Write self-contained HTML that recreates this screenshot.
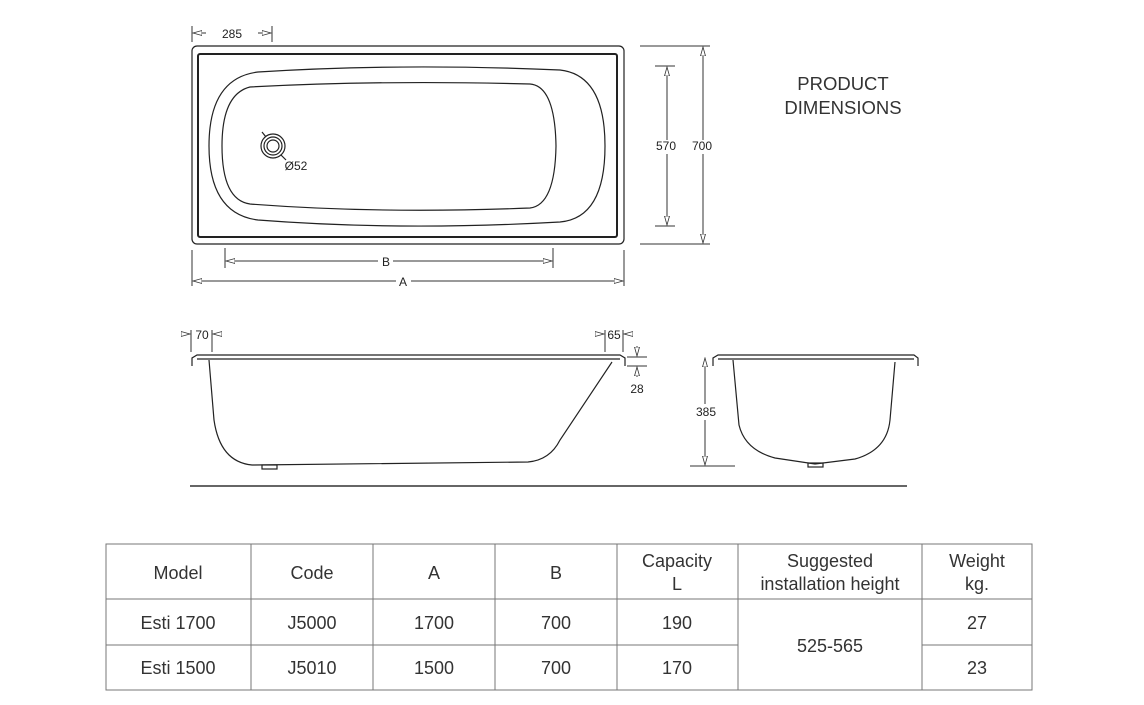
<!DOCTYPE html>
<html><head><meta charset="utf-8"><style>
body{margin:0;background:#fff;width:1144px;height:705px;overflow:hidden;font-family:"Liberation Sans",sans-serif}
svg{position:absolute;left:0;top:0}
</style></head><body>
<svg width="1144" height="705" viewBox="0 0 1144 705" font-family="Liberation Sans, sans-serif">
<defs>
<marker id="ar" markerWidth="10" markerHeight="6" refX="9" refY="3" orient="auto" markerUnits="userSpaceOnUse"><path d="M0,0.5 L9,3 L0,5.5 Z" fill="#fff" stroke="#333" stroke-width="0.8"/></marker>
</defs>
<g fill="none" stroke="#222" stroke-width="1.2">
<rect x="192" y="46" width="432" height="198" rx="5"/>
<rect x="198" y="54" width="419" height="183" rx="2" stroke-width="2"/>
<path d="M258,72 Q400,63 560,70 Q605,75 605,146 Q605,218 560,222 Q400,231 258,220 Q209,214 209,146 Q209,78 258,72 Z"/>
<path d="M250,87 Q380,80 530,84 Q555,86 556,146 Q555,205 530,208 Q380,214 250,204 Q222,200 222,146 Q222,94 250,87 Z"/>
<circle cx="273" cy="146" r="12"/><circle cx="273" cy="146" r="9"/><circle cx="273" cy="146" r="6"/>
<line x1="262" y1="132" x2="266" y2="137"/><line x1="281" y1="155" x2="286" y2="160"/>
</g>
<g stroke="#333" stroke-width="1" fill="none">
<line x1="192" y1="26" x2="192" y2="42"/><line x1="272" y1="26" x2="272" y2="42"/>
<line x1="206" y1="33" x2="193" y2="33" marker-end="url(#ar)"/><line x1="258" y1="33" x2="271" y2="33" marker-end="url(#ar)"/>
<line x1="640" y1="46" x2="710" y2="46"/><line x1="640" y1="244" x2="710" y2="244"/>
<line x1="655" y1="66" x2="675" y2="66"/><line x1="655" y1="226" x2="675" y2="226"/>
<line x1="667" y1="140" x2="667" y2="67" marker-end="url(#ar)"/><line x1="667" y1="154" x2="667" y2="225" marker-end="url(#ar)"/>
<line x1="703" y1="140" x2="703" y2="47" marker-end="url(#ar)"/><line x1="703" y1="154" x2="703" y2="243" marker-end="url(#ar)"/>
<line x1="192" y1="250" x2="192" y2="286"/><line x1="624" y1="250" x2="624" y2="286"/>
<line x1="225" y1="248" x2="225" y2="268"/><line x1="553" y1="248" x2="553" y2="268"/>
<line x1="378" y1="261" x2="226" y2="261" marker-end="url(#ar)"/><line x1="393" y1="261" x2="552" y2="261" marker-end="url(#ar)"/>
<line x1="396" y1="281" x2="193" y2="281" marker-end="url(#ar)"/><line x1="411" y1="281" x2="623" y2="281" marker-end="url(#ar)"/>
<line x1="191" y1="330" x2="191" y2="352"/><line x1="212" y1="330" x2="212" y2="352"/>
<line x1="182" y1="334" x2="190" y2="334" marker-end="url(#ar)"/><line x1="220" y1="334" x2="213" y2="334" marker-end="url(#ar)"/>
<line x1="605" y1="330" x2="605" y2="352"/><line x1="623" y1="330" x2="623" y2="352"/>
<line x1="596" y1="334" x2="604" y2="334" marker-end="url(#ar)"/><line x1="632" y1="334" x2="624" y2="334" marker-end="url(#ar)"/>
<line x1="627" y1="357" x2="647" y2="357"/><line x1="627" y1="366" x2="647" y2="366"/>
<line x1="637" y1="346" x2="637" y2="356" marker-end="url(#ar)"/><line x1="637" y1="377" x2="637" y2="367" marker-end="url(#ar)"/>
<line x1="690" y1="466" x2="735" y2="466"/>
<line x1="705" y1="404" x2="705" y2="358" marker-end="url(#ar)"/><line x1="705" y1="420" x2="705" y2="465" marker-end="url(#ar)"/>
<line x1="190" y1="486" x2="907" y2="486" stroke-width="1.4"/>
</g>
<g fill="none" stroke="#222" stroke-width="1.2">
<path d="M192,366 L192,358 L197,355 L620,355 L625,358 L625,366"/>
<line x1="197" y1="359" x2="620" y2="359"/>
<path d="M209,360 L214,420 Q220,462 252,465 L528,462 Q550,460 560,440 L612,362"/>
<rect x="262" y="465" width="15" height="4"/>
<path d="M713,366 L713,358 L718,355 L914,355 L918,358 L918,366"/>
<line x1="718" y1="359" x2="914" y2="359"/>
<path d="M733,360 L739,425 Q745,450 775,458 L815,464 L855,459 Q887,450 890,420 L895,362"/>
<rect x="808" y="463" width="15" height="4"/>
</g>
<g fill="#222" font-size="12" text-anchor="middle">
<text x="232" y="38">285</text>
<text x="296" y="170">Ø52</text>
<text x="666" y="150">570</text>
<text x="702" y="150">700</text>
<text x="386" y="266">B</text>
<text x="403" y="286">A</text>
<text x="202" y="339">70</text>
<text x="614" y="339">65</text>
<text x="637" y="393">28</text>
<text x="706" y="416">385</text>
</g>
<g fill="#333" font-size="18.5" text-anchor="middle">
<text x="843" y="90">PRODUCT</text>
<text x="843" y="114">DIMENSIONS</text>
</g>
<g stroke="#777" stroke-width="1" fill="none">
<rect x="106" y="544" width="926" height="146"/>
<line x1="106" y1="599" x2="1032" y2="599"/>
<line x1="106" y1="645" x2="738" y2="645"/><line x1="922" y1="645" x2="1032" y2="645"/>
<line x1="251" y1="544" x2="251" y2="690"/><line x1="373" y1="544" x2="373" y2="690"/>
<line x1="495" y1="544" x2="495" y2="690"/><line x1="617" y1="544" x2="617" y2="690"/>
<line x1="738" y1="544" x2="738" y2="690"/><line x1="922" y1="544" x2="922" y2="690"/>
</g>
<g fill="#333" font-size="18" text-anchor="middle">
<text x="178" y="579">Model</text><text x="312" y="579">Code</text><text x="434" y="579">A</text><text x="556" y="579">B</text>
<text x="677" y="567">Capacity</text><text x="677" y="590">L</text>
<text x="830" y="567">Suggested</text><text x="830" y="590">installation height</text>
<text x="977" y="567">Weight</text><text x="977" y="590">kg.</text>
<text x="178" y="629">Esti 1700</text><text x="312" y="629">J5000</text><text x="434" y="629">1700</text><text x="556" y="629">700</text><text x="677" y="629">190</text><text x="977" y="629">27</text>
<text x="178" y="674">Esti 1500</text><text x="312" y="674">J5010</text><text x="434" y="674">1500</text><text x="556" y="674">700</text><text x="677" y="674">170</text><text x="977" y="674">23</text>
<text x="830" y="652">525-565</text>
</g>
</svg>
</body></html>
